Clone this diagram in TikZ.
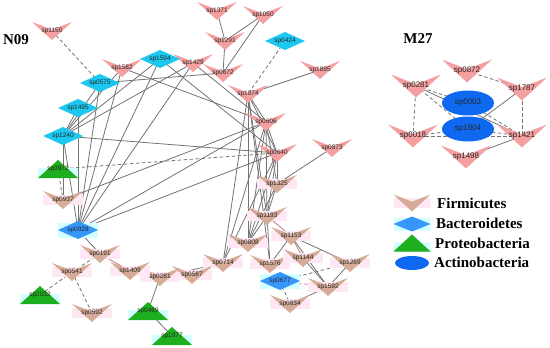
\documentclass[tikz,border=0pt]{standalone}
\usepackage{fontspec}
\setmainfont{Liberation Serif}
\newfontfamily\lblfont{Liberation Sans}
\usetikzlibrary{shapes.geometric,calc}
\pgfdeclarelayer{bg}
\pgfsetlayers{bg,main}
\definecolor{firmpink}{RGB}{244,160,160}
\definecolor{firmtan}{RGB}{214,172,152}
\definecolor{hlpink}{RGB}{254,232,243}
\definecolor{hlcyan}{RGB}{210,255,255}
\definecolor{bactcyan}{RGB}{28,200,240}
\definecolor{bactblue}{RGB}{55,150,250}
\definecolor{protgreen}{RGB}{30,175,30}
\definecolor{actblue}{RGB}{15,105,240}
\definecolor{edgegray}{RGB}{115,115,115}
\definecolor{edgepink}{RGB}{200,120,130}
\begin{document}
\begin{tikzpicture}[x=1pt,y=-1pt,
  base/.style={inner sep=0pt, minimum width=40pt, minimum height=18pt,
    font=\lblfont\fontsize{6.5}{7}\selectfont, text=black!85},
  chev/.style={base, path picture={\fill[#1] (path picture bounding box.north west)
      -- ($(path picture bounding box.north)!0.42!(path picture bounding box.south)$)
      -- (path picture bounding box.north east) -- (path picture bounding box.south) -- cycle;}},
  fz/.style={chev=firmpink},
  fzt/.style={base, path picture={
      \fill[hlpink] ($(path picture bounding box.north west)!0.2!(path picture bounding box.south west)$)
        rectangle ($(path picture bounding box.north east)!0.8!(path picture bounding box.south east)$);
      \fill[firmtan] (path picture bounding box.north west)
      -- ($(path picture bounding box.north)!0.42!(path picture bounding box.south)$)
      -- (path picture bounding box.north east) -- (path picture bounding box.south) -- cycle;}},
  dia/.style={base, path picture={\fill[#1] (path picture bounding box.north)
      -- (path picture bounding box.east) -- (path picture bounding box.south)
      -- (path picture bounding box.west) -- cycle;}},
  bc/.style={dia=bactcyan},
  bb/.style={base, path picture={
      \fill[hlcyan] ($(path picture bounding box.north west)!0.1!(path picture bounding box.south west)$)
        rectangle ($(path picture bounding box.north east)!0.95!(path picture bounding box.south east)$);
      \fill[bactblue] (path picture bounding box.north)
      -- (path picture bounding box.east) -- (path picture bounding box.south)
      -- (path picture bounding box.west) -- cycle;}},
  pt/.style={base, path picture={
      \fill[hlcyan] ($(path picture bounding box.north west)!0.45!(path picture bounding box.south west)$)
        rectangle (path picture bounding box.south east);
      \fill[protgreen] (path picture bounding box.north)
      -- (path picture bounding box.south east) -- (path picture bounding box.south west) -- cycle;}},
  mz/.style={fz, minimum width=50pt, minimum height=23pt, font=\lblfont\fontsize{8}{9}\selectfont},
  act/.style={ellipse, fill=actblue, inner sep=0pt, minimum width=52pt, minimum height=25pt,
    font=\lblfont\fontsize{8}{9}\selectfont, text=black!85},
  e/.style={draw=edgegray, line width=0.8pt},
  ep/.style={draw=edgepink, line width=0.8pt},
  ed/.style={draw=edgegray, line width=0.8pt, dash pattern=on 3.5pt off 2.5pt},
  edp/.style={draw=edgepink, line width=0.8pt, dash pattern=on 3.5pt off 2.5pt},
  ttl/.style={font=\bfseries\fontsize{15}{17}\selectfont},
  legtxt/.style={anchor=west, inner sep=0pt, font=\bfseries\fontsize{15}{17}\selectfont}
]
\useasboundingbox (0,0) rectangle (550,348);

% titles
\node[ttl] (n09) at (16,40) {N09};
\node[ttl] (m27) at (418,39) {M27};

% N09 Firmicutes (pink)
\node[fz] (a1150) at (52,31) {sp1150};
\node[fz] (a1582) at (122,68) {sp1582};
\node[fz] (a1429) at (193,63) {sp1429};
\node[fz] (a1371) at (217,11) {sp1371};
\node[fz] (a1050) at (263,15) {sp1050};
\node[fz] (a1291) at (225,41) {sp1291};
\node[fz] (a0672) at (223,73) {sp0672};
\node[fz] (a1895) at (320,70) {sp1895};
\node[fz] (a1074) at (248,94) {sp1074};
\node[fz] (a0606) at (266,122) {sp0606};
\node[fz] (a0640) at (277,153) {sp0640};
\node[fz] (a0873) at (332,148) {sp0873};
% N09 Firmicutes (tan)
\node[fzt] (a1325) at (277,184) {sp1325};
\node[fzt] (a1193) at (267,216) {sp1193};
\node[fzt] (a1153) at (291,236) {sp1153};
\node[fzt] (a0808) at (248,243) {sp0808};
\node[fzt] (a0714) at (223,263) {sp0714};
\node[fzt] (a1576) at (270,264) {sp1576};
\node[fzt] (a1144) at (303,258) {sp1144};
\node[fzt] (a1269) at (350,263) {sp1269};
\node[fzt] (a1592) at (328,287) {sp1592};
\node[fzt] (a0834) at (290,304) {sp0834};
\node[fzt] (a0587) at (192,275) {sp0587};
\node[fzt] (a0281) at (160,277) {sp0281};
\node[fzt] (a1409) at (130,271) {sp1409};
\node[fzt] (a0191) at (100,254) {sp0191};
\node[fzt] (a0541) at (72,272) {sp0541};
\node[fzt] (a0592) at (92,313) {sp0592};
\node[fzt] (a0937) at (63,200) {sp0937};
% N09 Bacteroidetes
\node[bc] (a1594) at (160,59) {sp1594};
\node[bc] (a0575) at (100,83) {sp0575};
\node[bc] (a1495) at (78,108) {sp1495};
\node[bc] (a1240) at (63,136) {sp1240};
\node[bc] (a0424) at (285,41) {sp0424};
\node[bb] (a0928) at (78,230) {sp0928};
\node[bb] (a0677) at (280,281) {sp0677};
% N09 Proteobacteria
\node[pt] (a0972) at (58,169) {sp0972};
\node[pt] (a2032) at (40,295) {sp2032};
\node[pt] (a0469) at (148,311) {sp0469};
\node[pt] (a1977) at (172,336) {sp1977};

% M27
\node[mz] (b0872) at (467,71) {sp0872};
\node[mz] (b0281) at (416,86) {sp0281};
\node[mz] (b1787) at (522,89) {sp1787};
\node[mz] (b0018) at (413,136) {sp0018};
\node[mz] (b1421) at (522,136) {sp1421};
\node[mz] (b1498) at (466,157) {sp1498};
\node[act] (b0003) at (468,103) {sp0003};
\node[act] (b1804) at (468,129) {sp1804};

% legend
\node[fzt, minimum width=37pt, minimum height=17pt] (l1) at (412,203) {};
\node[bb, minimum width=37pt, minimum height=15pt] (l2) at (412,224) {};
\node[pt, minimum width=37pt, minimum height=17pt] (l3) at (412,243) {};
\node[ellipse, fill=actblue, inner sep=0pt, minimum width=34pt, minimum height=14pt] (l4) at (412,263) {};
\node[legtxt] (t1) at (437,203) {Firmicutes};
\node[legtxt] (t2) at (436,223) {Bacteroidetes};
\node[legtxt] (t3) at (435,243) {Proteobacteria};
\node[legtxt] (t4) at (434,262) {Actinobacteria};

\begin{pgfonlayer}{bg}
% N09 solid edges
\foreach \u/\v in {a1371/a1291, a1050/a1291, a1050/a0672, a1291/a0672, a1895/a1074, a0873/a1325,
  a1594/a1240, a1582/a1240, a1429/a1240, a0575/a1240, a1495/a1240,
  a1594/a0928, a1582/a0928, a1429/a0928, a0575/a0928, a1495/a0928, a1240/a0928, a1240/a0937,
  a1594/a0640, a1582/a0606, a1429/a0606, a0575/a0672, a1240/a0640, a0937/a0606,
  a0928/a0640, a0928/a0606, a0928/a0191,
  a1074/a0606, a1074/a0640, a1074/a1193, a1074/a0714, a1074/a0808, a1074/a1576,
  a0606/a0640, a0606/a1325, a0606/a1193, a0606/a0808, a0606/a0714,
  a0640/a1325, a0640/a1193, a0640/a0808, a0640/a0714,
  a1325/a1193, a1325/a0808, a1193/a0808, a1193/a1576, a1153/a1576, a1153/a1592,
  a1144/a1592, a1269/a1592, a0834/a1592, a0714/a0587, a0281/a0714, a0281/a0469, a0469/a1977,
  a1153/a1269}
  \draw[e] (\u.center) -- (\v.center);
\foreach \u/\v in {a0191/a1409, a1409/a0281, a0281/a0587, a1193/a1153, a1153/a1144}
  \draw[ep] (\u.center) -- (\v.center);
% N09 dashed edges
\foreach \u/\v in {a1150/a0575, a0424/a1074, a0972/a0640, a0972/a0937, a0191/a0541,
  a0541/a2032, a0541/a0592, a0677/a1269, a0677/a0834}
  \draw[ed] (\u.center) -- (\v.center);
\draw[edp] (a0677.center) -- (a1592.center);
% M27 edges
\foreach \u/\v in {b0281/b1421, b1787/b1804, b1498/b1421}
  \draw[e] (\u.center) -- (\v.center);
\foreach \u/\v in {b0872/b1787, b0281/b0003, b0281/b1804, b0003/b1421, b0281/b0018,
  b1787/b1421, b0018/b1804, b1804/b1421, b0018/b1421}
  \draw[ed] (\u.center) -- (\v.center);
\end{pgfonlayer}
\end{tikzpicture}
\end{document}
